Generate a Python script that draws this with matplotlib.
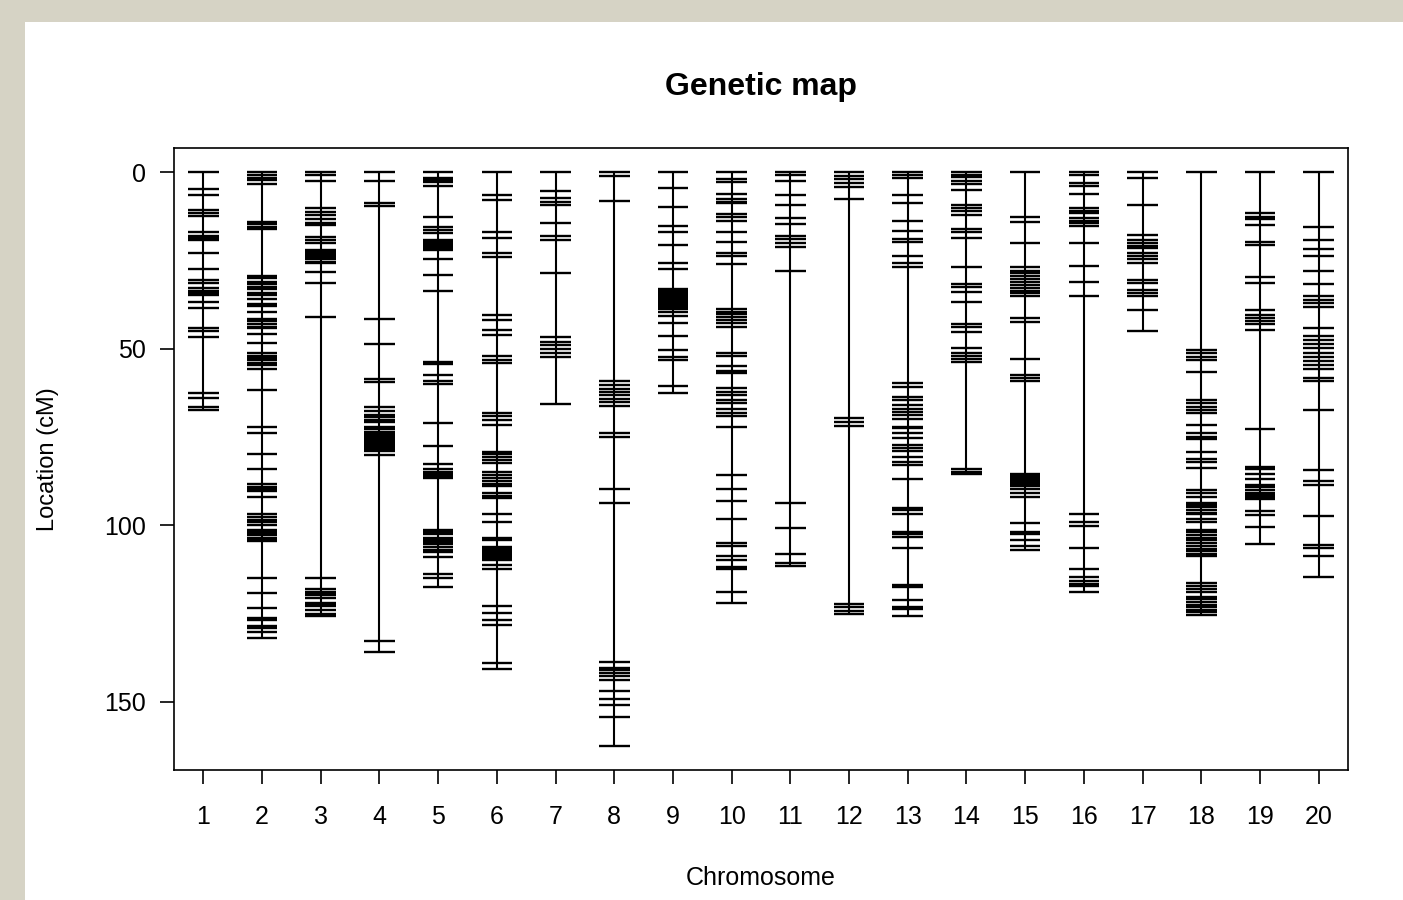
import matplotlib
matplotlib.use("Agg")
import matplotlib.pyplot as plt
from matplotlib.patches import Rectangle

# Marker positions (cM) per chromosome
chr01 = [0, 4.9, 6.5, 10.8, 11.7, 12.5, 17.1, 18.1, 18.8, 19.3, 23.0, 27.4, 30.6, 31.3, 32.9, 33.6,
         34.2, 34.8, 36.9, 38.6, 44.1, 44.9, 46.7, 62.6, 63.9, 66.4, 67.4]
chr02 = [0, 0.75, 1.8, 2.3, 3.4, 14.1, 14.7, 15.5, 16.1, 29.4, 30.1, 31.0, 31.7, 32.5, 33.2, 34.2,
         34.7, 36.0, 37.4, 37.8, 39.5, 41.7, 42.3, 43.0, 43.8, 44.2, 45.9, 48.3, 51.3, 52.1, 52.7,
         53.2, 54.0, 54.6, 55.8, 61.7, 72.1, 74.0, 79.8, 84.0, 88.3, 89.1, 89.8, 90.2, 92.1, 96.8,
         97.7, 98.5, 99.2, 100.0, 101.3, 101.8, 102.3, 102.7, 103.7, 104.2, 104.6, 114.8, 119.1,
         123.3, 126.4, 126.8, 128.4, 129.0, 130.1, 132.0]
chr03 = [0, 0.9, 2.6, 10.3, 11.3, 12.3, 13.3, 14.4, 14.9, 18.3, 19.2, 20.1, 22.1, 22.6, 23.0, 23.4,
         23.8, 24.3, 24.7, 25.4, 25.8, 28.4, 31.5, 41.1, 115.0, 118.0, 118.8, 119.2, 119.7, 120.7,
         121.9, 122.4, 123.0, 124.1, 125.0, 125.6]
chr04 = [0, 2.6, 8.9, 9.6, 41.6, 48.6, 58.6, 59.5, 66.6, 67.8, 68.8, 69.4, 70.2, 70.9, 72.1, 72.8,
         73.5, 74.2, 74.6, 75.0, 75.5, 76.0, 76.5, 77.0, 77.5, 78.0, 78.5, 79.0, 80.1, 132.9, 135.9]
chr05 = [0, 1.8, 2.4, 2.8, 3.9, 12.6, 15.7, 16.4, 17.4, 19.2, 19.7, 20.4, 20.9, 21.6, 22.1, 24.5,
         29.2, 33.6, 53.7, 54.3, 57.5, 59.3, 60.0, 71.1, 77.5, 82.7, 84.2, 84.8, 85.5, 86.2, 86.7,
         101.3, 101.9, 102.5, 103.7, 104.2, 104.7, 105.3, 106.2, 107.0, 107.7, 109.0, 113.9,
         115.0, 117.4]
chr06 = [0, 6.5, 7.9, 16.9, 18.8, 22.8, 24.2, 40.5, 41.9, 44.7, 46.1, 52.0, 53.2, 54.2, 68.3, 69.2,
         70.2, 71.6, 79.2, 79.8, 80.6, 81.5, 82.3, 84.8, 85.7, 86.7, 87.6, 88.3, 89.0, 90.9, 91.7,
         92.3, 96.8, 99.2, 103.7, 104.3, 106.2, 106.6, 106.9, 107.3, 107.7, 108.0, 108.4, 108.8,
         109.2, 109.9, 111.2, 112.4, 122.8, 124.9, 126.8, 128.2, 139.1, 140.7]
chr07 = [0, 5.3, 7.3, 8.4, 9.3, 14.3, 18.1, 19.2, 28.7, 46.8, 48.0, 49.0, 50.0, 51.1, 52.5, 65.8]
chr08 = [0, 1.1, 8.2, 59.3, 60.3, 61.3, 62.4, 63.2, 64.4, 65.1, 66.3, 73.8, 75.1, 89.8, 93.6,
         138.8, 140.5, 141.1, 141.9, 142.6, 143.8, 146.8, 149.1, 150.8, 154.2, 162.5]
chr09 = [0, 4.4, 9.8, 15.3, 17.1, 20.7, 25.7, 27.5, 33.2, 33.6, 34.0, 34.4, 34.8, 35.2, 35.6, 36.0,
         36.4, 36.8, 37.2, 37.6, 38.1, 38.8, 39.5, 40.9, 42.8, 46.3, 50.4, 52.4, 53.2, 60.5, 62.5]
chr10 = [0, 2.1, 2.9, 6.2, 7.7, 8.4, 8.9, 11.9, 12.8, 13.8, 16.9, 19.7, 22.8, 23.8, 26.0, 38.9,
         39.5, 40.3, 41.1, 42.0, 42.8, 43.8, 51.1, 52.1, 54.9, 56.2, 57.0, 61.1, 62.2, 63.1, 64.5,
         65.3, 67.2, 68.2, 69.1, 72.1, 85.9, 89.7, 93.0, 98.2, 105.1, 105.8, 108.8, 109.8, 111.7,
         112.4, 118.8, 122.0]
chr11 = [0, 0.9, 2.5, 6.5, 9.3, 12.9, 14.7, 18.1, 19.1, 20.2, 21.3, 28.0, 93.6, 100.8, 108.1,
         110.7, 111.5]
chr12 = [0, 1.1, 2.0, 3.0, 4.3, 7.5, 69.7, 70.7, 71.8, 122.4, 123.2, 124.2, 125.1]
chr13 = [0, 0.9, 1.8, 6.6, 8.9, 13.8, 16.6, 18.9, 19.7, 23.8, 25.8, 27.0, 59.8, 60.8, 63.8, 64.5,
         65.9, 67.2, 67.9, 68.8, 70.0, 72.1, 72.5, 74.0, 75.4, 77.3, 78.2, 79.1, 80.6, 82.0, 82.9,
         87.0, 95.2, 95.8, 96.8, 101.9, 102.6, 103.4, 106.4, 116.8, 117.5, 121.2, 123.1, 123.8,
         125.6]
chr14 = [0, 0.8, 1.5, 2.5, 3.5, 5.1, 9.3, 10.1, 10.9, 12.2, 16.1, 17.1, 18.8, 27.0, 31.7, 32.5,
         34.1, 36.9, 43.1, 43.9, 45.3, 49.7, 51.1, 52.0, 53.0, 53.9, 84.0, 84.8, 85.6]
chr15 = [0, 12.6, 14.2, 20.2, 27.0, 27.9, 28.7, 29.5, 30.3, 31.1, 32.0, 32.9, 33.6, 34.3, 35.0,
         41.4, 42.4, 53.0, 57.5, 58.4, 59.3, 85.5, 86.0, 86.6, 87.2, 87.7, 88.3, 88.9, 89.7, 90.9,
         92.1, 99.4, 101.8, 102.5, 104.2, 105.8, 107.0]
chr16 = [0, 0.8, 3.0, 3.9, 6.3, 10.3, 11.0, 11.7, 13.1, 13.8, 14.5, 15.2, 20.2, 26.5, 31.2, 35.1,
         96.8, 99.2, 100.3, 106.4, 112.3, 114.7, 115.8, 116.5, 117.2, 118.8]
chr17 = [0, 1.8, 9.3, 17.9, 19.2, 20.2, 20.9, 21.6, 23.0, 23.8, 24.7, 25.8, 30.6, 31.3, 33.4, 34.3,
         35.1, 39.2, 44.9]
chr18 = [0, 50.4, 51.3, 52.3, 53.2, 56.7, 64.5, 65.5, 66.4, 67.4, 68.3, 71.6, 74.0, 74.9, 75.7,
         79.2, 81.3, 82.0, 83.9, 90.0, 90.9, 92.1, 93.6, 94.2, 94.9, 95.7, 96.4, 96.8, 98.3, 99.2,
         101.3, 102.0, 102.8, 103.5, 104.3, 105.1, 105.8, 106.6, 107.3, 108.1, 108.8, 116.4,
         117.1, 118.1, 118.8, 120.2, 121.0, 121.7, 122.5, 123.2, 124.0, 124.7, 125.5]
chr19 = [0, 11.7, 12.6, 13.4, 15.0, 19.7, 20.7, 29.6, 31.3, 39.2, 40.5, 41.4, 42.2, 43.0, 44.7,
         72.8, 83.4, 84.2, 85.5, 87.0, 88.6, 89.2, 90.0, 90.8, 91.5, 92.1, 92.6, 96.1, 97.1,
         100.4, 105.4]
chr20 = [0, 15.7, 19.2, 21.7, 23.8, 28.0, 31.8, 35.1, 36.1, 37.1, 38.1, 44.2, 46.4, 47.6, 48.8,
         49.9, 51.1, 52.3, 53.5, 54.6, 55.9, 58.4, 59.1, 67.4, 84.3, 87.4, 88.6, 97.3, 105.6,
         106.5, 108.6, 114.7]

chromosomes = ["1", "2", "3", "4", "5", "6", "7", "8", "9", "10",
               "11", "12", "13", "14", "15", "16", "17", "18", "19", "20"]
maps = [chr01, chr02, chr03, chr04, chr05, chr06, chr07, chr08, chr09, chr10,
        chr11, chr12, chr13, chr14, chr15, chr16, chr17, chr18, chr19, chr20]
yticks = [0, 50, 100, 150]

plt.rcParams['font.family'] = ['Liberation Sans', 'DejaVu Sans']

W, H = 1403, 900
fig = plt.figure(figsize=(W / 100, H / 100), dpi=100)
fig.patch.set_facecolor('#d6d3c5')
fig.patches.append(Rectangle((25 / W, 0), 1 - 25 / W, 1 - 22 / H, transform=fig.transFigure,
                             facecolor='white', edgecolor='none', zorder=-10))

ax = fig.add_axes([174 / W, 1 - 770 / H, (1348 - 174) / W, (770 - 148) / H])
ax.set_zorder(1)
ax.set_facecolor('white')

half = 0.26
for i, (name, pos) in enumerate(zip(chromosomes, maps)):
    x = i + 1
    ax.plot([x, x], [min(pos), max(pos)], color='black', lw=1.5, solid_capstyle='butt')
    ax.hlines(pos, x - half, x + half, colors='black', lw=1.7)

ax.set_xlim(0.5, 20.5)
ax.set_ylim(169.3, -6.8)
ax.set_xticks(range(1, 21))
ax.set_xticklabels(chromosomes)
ax.set_yticks(yticks)
ax.tick_params(axis='both', direction='out', length=10, width=1.2, labelsize=18, color='black')
ax.tick_params(axis='x', pad=15)
ax.tick_params(axis='y', pad=10)
for s in ax.spines.values():
    s.set_linewidth(1.2)

fig.text((174 + 1348) / 2 / W, 1 - 87 / H, "Genetic map", ha='center', va='center',
         fontsize=23, fontweight='bold', zorder=2)
fig.text((174 + 1348) / 2 / W, 1 - 878 / H, "Chromosome", ha='center', va='center',
         fontsize=18, zorder=2)
fig.text(48 / W, 1 - 459 / H, "Location (cM)", ha='center', va='center', fontsize=17,
         rotation=90, zorder=2)

fig.savefig("out.png", dpi=100, facecolor=fig.get_facecolor())
